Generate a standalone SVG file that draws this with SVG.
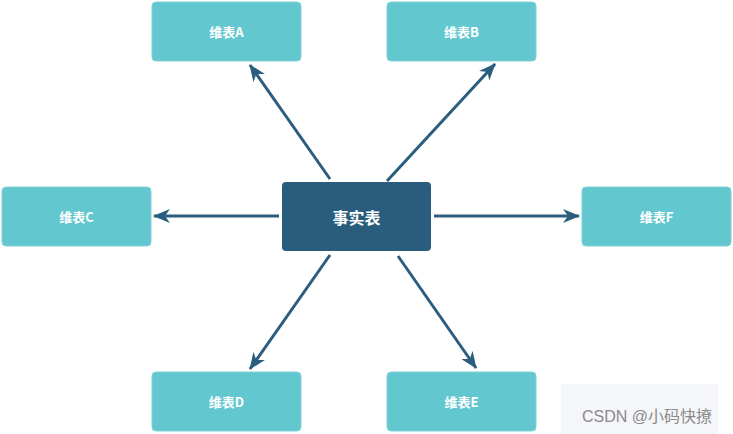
<svg xmlns="http://www.w3.org/2000/svg" width="733" height="434" viewBox="0 0 733 434">
<style>
.dim rect{fill:#62c7cf;stroke:#7fd2d8;stroke-width:1}
.dim text{fill:#fff;font-family:"Noto Sans CJK SC","Liberation Sans",sans-serif;font-size:13px;font-weight:bold;text-anchor:middle;dominant-baseline:central}
.fact rect{fill:#2a5d7d}
.fact text{fill:#fff;font-family:"Noto Sans CJK SC","Liberation Sans",sans-serif;font-size:16px;font-weight:bold;text-anchor:middle;dominant-baseline:central}
.conn line{stroke:#2b5e7e;stroke-width:3;marker-end:url(#ah)}
</style>
<defs>
<marker id="ah" markerUnits="userSpaceOnUse" markerWidth="18" markerHeight="14" refX="16" refY="7" orient="auto" viewBox="0 0 18 14">
<path d="M0,0 L17,7 L0,14 L5,7 Z" fill="#2b5e7e"/>
</marker>
</defs>
<rect width="733" height="434" fill="#fff"/>
<g class="conn">
<line x1="330" y1="179" x2="250" y2="65"/>
<line x1="387" y1="181" x2="495" y2="64"/>
<line x1="279" y1="216" x2="154" y2="216"/>
<line x1="434" y1="216" x2="579" y2="216"/>
<line x1="330" y1="255" x2="250" y2="369"/>
<line x1="398" y1="256" x2="476" y2="368"/>
</g>
<g id="fact" class="fact"><rect x="282" y="182" width="149" height="69" rx="4"/><text x="356.5" y="216.5">事实表</text></g>
<g id="dimA" class="dim"><rect x="152" y="2" width="149" height="59" rx="4"/><text x="226.5" y="31.5">维表A</text></g>
<g id="dimB" class="dim"><rect x="387" y="2" width="149" height="59" rx="4"/><text x="461.5" y="31.5">维表B</text></g>
<g id="dimC" class="dim"><rect x="2" y="187" width="149" height="59" rx="4"/><text x="76.5" y="216.5">维表C</text></g>
<g id="dimF" class="dim"><rect x="582" y="187" width="149" height="59" rx="4"/><text x="656.5" y="216.5">维表F</text></g>
<g id="dimD" class="dim"><rect x="152" y="372" width="149" height="59" rx="4"/><text x="226.5" y="401.5">维表D</text></g>
<g id="dimE" class="dim"><rect x="387" y="372" width="149" height="59" rx="4"/><text x="461.5" y="401.5">维表E</text></g>
<rect x="561" y="384" width="157" height="50" fill="#f5f6f9"/>
<text x="582" y="422" font-family="'Liberation Sans','Noto Sans CJK SC',sans-serif" font-size="16" fill="#8a8a8a">CSDN @小码快撩</text>
</svg>
